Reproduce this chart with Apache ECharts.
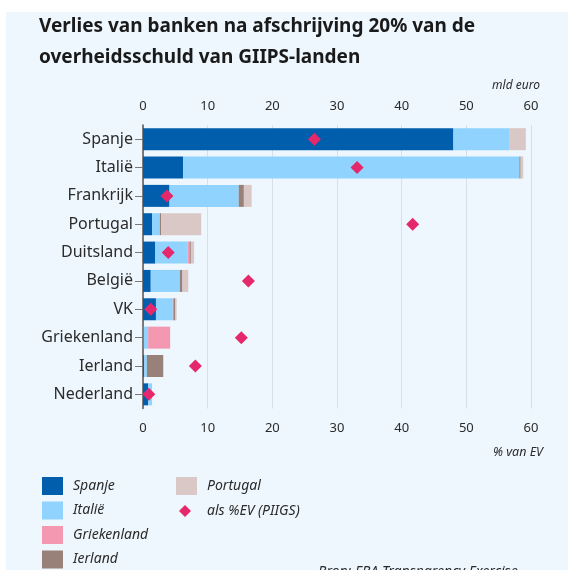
<!DOCTYPE html>
<html>
<head>
<meta charset="utf-8">
<script src="https://cdn.jsdelivr.net/npm/echarts@6/dist/echarts.min.js"></script>
<style>
  html, body { margin: 0; padding: 0; background: #ffffff; }
  #chart { width: 568px; height: 570px; }
</style>
</head>
<body>
<div id="chart"></div>
<script>
// landen (categorie-as), van boven naar beneden
var categories = ['Spanje', 'Italië', 'Frankrijk', 'Portugal', 'Duitsland', 'België', 'VK', 'Griekenland', 'Ierland', 'Nederland'];

// verlies per GIIPS-land, mld euro
var spanje      = [48.0, 6.2, 4.1, 1.4, 1.9, 1.2, 2.0, 0.1, 0.2, 0.8];
var italie      = [8.6, 52.0, 10.7, 1.2, 5.0, 4.5, 2.6, 0.7, 0.4, 0.6];
var griekenland = [0, 0, 0, 0, 0.3, 0, 0.1, 3.4, 0, 0];
var ierland     = [0, 0.2, 0.8, 0.2, 0.2, 0.4, 0.3, 0, 2.5, 0];
var portugal    = [2.6, 0.4, 1.2, 6.2, 0.5, 0.9, 0.2, 0, 0.1, 0];

// totaal als % van eigen vermogen
var pctEV = [26.5, 33.1, 3.7, 41.7, 3.9, 16.3, 1.2, 15.2, 8.1, 0.9];

var xTicks = [0, 10, 20, 30, 40, 50, 60];

var font = '"Noto Sans", sans-serif';
var dark = '#2b2b2b';

var chart = echarts.init(document.getElementById('chart'));

function barSeries(name, data, color) {
    return {
        name: name,
        type: 'bar',
        stack: 'totaal',
        xAxisIndex: 0,
        barWidth: 22,
        itemStyle: { color: color },
        data: data
    };
}

var legendText = {
    fontFamily: font,
    fontStyle: 'italic',
    fontSize: 14,
    color: dark,
    padding: [0, 0, 0, 5]
};

var option = {
    animation: false,
    backgroundColor: '#ffffff',
    textStyle: { fontFamily: font },
    graphic: [
        {
            type: 'rect',
            left: 6, top: 12, z: -10,
            shape: { width: 562, height: 558 },
            style: { fill: '#eef7fe' }
        },
        {
            type: 'text',
            left: 39, top: 11,
            style: {
                text: 'Verlies van banken na afschrijving 20% van de\noverheidsschuld van GIIPS-landen',
                fontFamily: font, fontWeight: 'bold', fontSize: 19,
                lineHeight: 31, fill: '#1a1a1a'
            }
        },
        {
            type: 'text',
            right: 28, top: 80,
            style: { text: 'mld euro', fontFamily: font, fontStyle: 'italic', fontSize: 12, fill: dark }
        },
        {
            type: 'text',
            right: 25, top: 446,
            style: { text: '% van EV', fontFamily: font, fontStyle: 'italic', fontSize: 12.5, fill: dark }
        },
        {
            type: 'text',
            left: 318, top: 565,
            style: { text: 'Bron: EBA Transparency Exercise', fontFamily: font, fontStyle: 'italic', fontSize: 14, fill: dark }
        }
    ],
    grid: {
        left: 143,
        right: 37,
        top: 125,
        bottom: 161.5
    },
    legend: [
        {
            left: 37, top: 472, height: 120,
            orient: 'vertical',
            icon: 'rect',
            itemWidth: 21, itemHeight: 18, itemGap: 6.5,
            textStyle: legendText,
            data: ['Spanje', 'Italië', 'Griekenland', 'Ierland']
        },
        {
            left: 171, top: 472,
            orient: 'vertical',
            icon: 'rect',
            itemWidth: 21, itemHeight: 18,
            textStyle: legendText,
            data: ['Portugal']
        },
        {
            left: 174, top: 499,
            orient: 'vertical',
            itemWidth: 12, itemHeight: 12,
            textStyle: { fontFamily: font, fontStyle: 'italic', fontSize: 14, color: dark, padding: [0, 0, 0, 11] },
            data: ['als %EV (PIIGS)']
        }
    ],
    xAxis: [
        {
            type: 'value',
            position: 'top',
            min: xTicks[0], max: xTicks[xTicks.length - 1], interval: 10,
            axisLine: { show: false },
            axisTick: { show: false },
            axisLabel: { margin: 12, fontSize: 13, color: dark },
            splitLine: { show: true, lineStyle: { color: '#d7dfe7', width: 1 } }
        },
        {
            type: 'value',
            position: 'bottom',
            min: xTicks[0], max: xTicks[xTicks.length - 1], interval: 10,
            axisLine: { show: false },
            axisTick: { show: false },
            axisLabel: { margin: 13, fontSize: 13, color: dark },
            splitLine: { show: false }
        }
    ],
    yAxis: {
        type: 'category',
        inverse: true,
        data: categories,
        axisLine: { show: true, lineStyle: { color: '#555555', width: 1.5 } },
        axisTick: { show: true, length: 8, alignWithLabel: true, lineStyle: { color: '#777777' } },
        axisLabel: { margin: 10, fontSize: 16, color: dark }
    },
    series: [
        barSeries('Spanje', spanje, '#005ead'),
        barSeries('Italië', italie, '#8fd3fe'),
        barSeries('Griekenland', griekenland, '#f497b0'),
        barSeries('Ierland', ierland, '#978179'),
        barSeries('Portugal', portugal, '#d9c8c6'),
        {
            name: 'als %EV (PIIGS)',
            type: 'scatter',
            xAxisIndex: 1,
            symbol: 'diamond',
            symbolSize: 13,
            z: 5,
            itemStyle: { color: '#e5286b', opacity: 1 },
            data: pctEV
        }
    ]
};

chart.setOption(option);
</script>
</body>
</html>
